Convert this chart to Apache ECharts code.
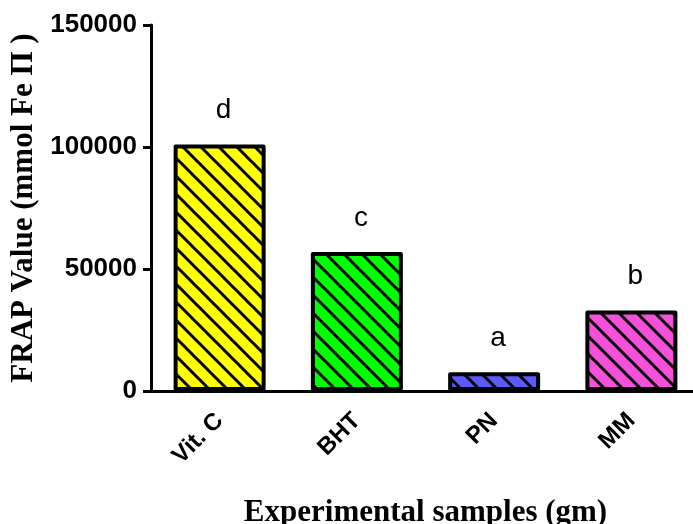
<!DOCTYPE html>
<html>
<head>
<meta charset="utf-8">
<script src="https://cdn.jsdelivr.net/npm/echarts@6/dist/echarts.min.js"></script>
<style>html,body{margin:0;padding:0;background:#fff}#c{width:693px;height:524px}</style>
</head>
<body>
<div id="c"></div>
<script>
const categories = ['Vit. C', 'BHT', 'PN', 'MM'];
const values = [101000, 57000, 7700, 33000];
const letters = ['d', 'c', 'a', 'b'];
const fillColors = ['#FFFF00', '#00FF00', '#5A5AFF', '#F550DC'];
const yTicks = [0, 50000, 100000, 150000];

function hatch(color) {
  const s = 18;
  const c = document.createElement('canvas');
  c.width = s; c.height = s;
  const ctx = c.getContext('2d');
  ctx.fillStyle = color;
  ctx.fillRect(0, 0, s, s);
  ctx.strokeStyle = '#000';
  ctx.lineWidth = 3;
  ctx.beginPath();
  for (const k of [-s, 0, s]) {
    ctx.moveTo(k - 3, -3);
    ctx.lineTo(k + s + 3, s + 3);
  }
  ctx.stroke();
  return c;
}

const chart = echarts.init(document.getElementById('c'), null, {renderer: 'canvas'});
const data = values.map((v, i) => ({
  value: v,
  itemStyle: {color: {image: hatch(fillColors[i]), repeat: 'repeat'}},
  label: {formatter: letters[i]}
}));

chart.setOption({
  animation: false,
  backgroundColor: '#fff',
  grid: {left: 151, top: 25, width: 549, height: 366, containLabel: false, outerBoundsMode: 'none'},
  xAxis: {
    type: 'category',
    data: categories,
    axisLine: {lineStyle: {color: '#000', width: 3}},
    axisTick: {alignWithLabel: true, length: 8, lineStyle: {color: '#000', width: 2}},
    axisLabel: {rotate: 45, margin: 26, color: '#000', fontFamily: 'Liberation Sans', fontWeight: 'bold', fontSize: 24},
    name: 'Experimental samples (gm)',
    nameLocation: 'middle',
    nameGap: 106,
    nameTextStyle: {fontFamily: 'Liberation Serif', fontWeight: 'bold', fontSize: 31, color: '#000'}
  },
  yAxis: {
    type: 'value',
    min: yTicks[0], max: yTicks[yTicks.length - 1], interval: 50000,
    splitLine: {show: false},
    axisLine: {show: true, lineStyle: {color: '#000', width: 3}},
    axisTick: {show: true, length: 8, lineStyle: {color: '#000', width: 3}},
    axisLabel: {margin: 14, color: '#000', fontFamily: 'Liberation Sans', fontWeight: 'bold', fontSize: 26, formatter: v => String(v)},
    name: 'FRAP Value (mmol Fe Π )',
    nameLocation: 'middle',
    nameRotate: 90,
    nameGap: 112,
    nameTextStyle: {fontFamily: 'Liberation Serif', fontWeight: 'bold', fontSize: 31, color: '#000'}
  },
  series: [{
    type: 'bar',
    barWidth: 92,
    data: data,
    itemStyle: {borderColor: '#000', borderWidth: 4, borderJoin: 'round'},
    label: {show: true, position: 'top', distance: 20, offset: [4, 0], color: '#000', fontFamily: 'Liberation Sans', fontSize: 28}
  }]
});
</script>
</body>
</html>
